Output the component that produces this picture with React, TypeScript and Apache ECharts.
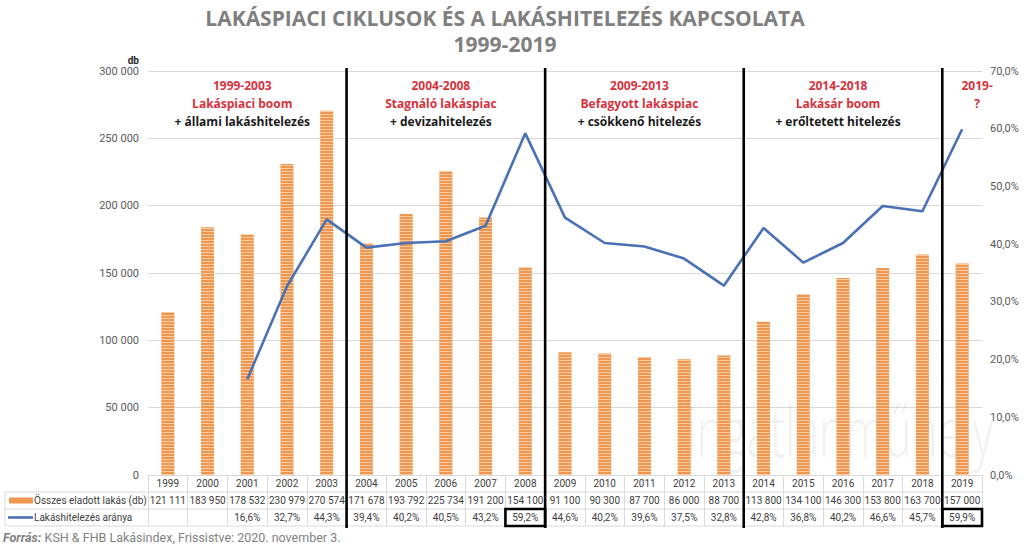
import React, { useEffect, useRef } from 'react';
import * as echarts from 'echarts';

const years = ['1999', '2000', '2001', '2002', '2003', '2004', '2005', '2006', '2007', '2008', '2009', '2010', '2011', '2012', '2013', '2014', '2015', '2016', '2017', '2018', '2019'];
const sales = [121111, 183950, 178532, 230979, 270574, 171678, 193792, 225734, 191200, 154100, 91100, 90300, 87700, 86000, 88700, 113800, 134100, 146300, 153800, 163700, 157000];
const loanShare: (number | null)[] = [null, null, 16.6, 32.7, 44.3, 39.4, 40.2, 40.5, 43.2, 59.2, 44.6, 40.2, 39.6, 37.5, 32.8, 42.8, 36.8, 40.2, 46.6, 45.7, 59.9];

const seriesNames = ['Összes eladott lakás (db)', 'Lakáshitelezés aránya'];
const titleLines = ['LAKÁSPIACI CIKLUSOK ÉS A LAKÁSHITELEZÉS KAPCSOLATA', '1999-2019'];
const periodStarts = [0, 5, 10, 15, 20];
const periodTitles = ['1999-2003', '2004-2008', '2009-2013', '2014-2018', '2019-'];
const periodSubtitles = ['Lakáspiaci boom', 'Stagnáló lakáspiac', 'Befagyott lakáspiac', 'Lakásár boom', '?'];
const periodNotes = ['+ állami lakáshitelezés', '+ devizahitelezés', '+ csökkenő hitelezés', '+ erőltetett hitelezés', ''];
const highlightedYears = ['2008', '2019'];
const sourceLabel = 'Forrás:';
const sourceText = 'KSH & FHB Lakásindex, Frissistve: 2020. november 3.';
const watermark = 'ingatlanműhely';

const fmtNum = (v: number) => String(v).replace(/\B(?=(\d{3})+(?!\d))/g, ' ');
const fmtPct = (v: number | null) => (v == null ? '\u00a0' : v.toFixed(1).replace('.', ',') + '%');

const ORANGE = '#EE9750';
const BLUE = '#4A70B5';
const GRID = '#D9D9D9';
const TXT = '#404040';
const RED = '#D7323C';
const FONT = 'Roboto, "Noto Sans", sans-serif';
const ROW = 17;
const TFS = 10;

export default function App() {
  const ref = useRef<HTMLDivElement>(null);
  useEffect(() => {
    if (!ref.current) return;
    const chart = echarts.init(ref.current, null, { renderer: 'svg' });
    const option: any = {
      animation: false,
      textStyle: { fontFamily: FONT },
      grid: { left: 148, right: 42, top: 71, bottom: 72, containLabel: false },
      xAxis: {
        type: 'category',
        data: years,
        boundaryGap: true,
        axisLine: { show: true, lineStyle: { color: GRID, width: 1 } },
        axisTick: { show: true, interval: 0, length: ROW * 3, lineStyle: { color: GRID } },
        axisLabel: {
          interval: 0,
          margin: 0,
          verticalAlign: 'top',
          hideOverlap: false,
          formatter: (val: string, idx: number) =>
            `{y|${val}}\n{v|${fmtNum(sales[idx])}}\n{p|${fmtPct(loanShare[idx])}}`,
          rich: {
            y: { fontSize: TFS, color: TXT, lineHeight: ROW, fontFamily: FONT },
            v: { fontSize: TFS, color: TXT, lineHeight: ROW, fontFamily: FONT },
            p: { fontSize: TFS, color: TXT, lineHeight: ROW, fontFamily: FONT },
          },
        },
      },
      yAxis: [
        {
          type: 'value',
          min: 0,
          max: 300000,
          interval: 50000,
          axisLine: { show: false },
          axisTick: { show: false },
          splitLine: { lineStyle: { color: GRID } },
          axisLabel: { color: '#595959', fontSize: 11, margin: 9, formatter: (v: number) => fmtNum(v) },
        },
        {
          type: 'value',
          min: 0,
          max: 70,
          interval: 10,
          axisLine: { show: false },
          axisTick: { show: false },
          splitLine: { show: false },
          axisLabel: { color: '#595959', fontSize: 11, margin: 8, formatter: (v: number) => v.toFixed(1).replace('.', ',') + '%' },
        },
      ],
      series: [
        {
          name: seriesNames[0],
          type: 'bar',
          data: sales,
          barWidth: 13,
          itemStyle: {
            color: ORANGE,
            decal: {
              symbol: 'rect',
              symbolSize: 1,
              dashArrayX: [1, 0],
              dashArrayY: [1, 2],
              color: 'rgba(255,225,195,0.7)',
              rotation: 0,
            },
          },
          z: 2,
        },
        {
          name: seriesNames[1],
          type: 'line',
          yAxisIndex: 1,
          data: loanShare,
          showSymbol: false,
          symbol: 'none',
          connectNulls: false,
          lineStyle: { color: BLUE, width: 2.6 },
          itemStyle: { color: BLUE },
          z: 3,
        },
      ],
    };
    chart.setOption(option);

    const px = (i: number) => chart.convertToPixel({ xAxisIndex: 0 }, i) as number;
    const band = px(1) - px(0);
    const bnd = (i: number) => px(i) - band / 2;
    const yTop = chart.convertToPixel({ yAxisIndex: 0 }, 300000) as number;
    const y0 = chart.convertToPixel({ yAxisIndex: 0 }, 0) as number;
    const xR = bnd(years.length);

    const g: any[] = [];
    // watermark
    g.push({
      type: 'text', x: 840, y: 430, z: 0, scaleX: 0.64, scaleY: 1,
      style: { text: watermark, fill: 'rgba(0,0,0,0.06)', font: '300 70px "Open Sans", sans-serif', align: 'center', verticalAlign: 'middle' },
    });
    // title
    titleLines.forEach((t, i) => {
      g.push({
        type: 'text', x: 505, y: 18 + i * 26, z: 10,
        style: { text: t, fill: '#7F7F7F', font: 'bold 21px "Open Sans", sans-serif', align: 'center', verticalAlign: 'middle' },
      });
    });
    g.push({
      type: 'text', x: 139, y: 60, z: 10,
      style: { text: 'db', fill: '#262626', font: 'bold 10px ' + FONT, align: 'right', verticalAlign: 'middle' },
    });
    // table horizontal lines
    [1, 2, 3].forEach((r) => {
      g.push({ type: 'line', z: 5, shape: { x1: 5, y1: y0 + r * ROW, x2: xR, y2: y0 + r * ROW }, style: { stroke: GRID, lineWidth: 1 } });
    });
    g.push({ type: 'line', z: 5, shape: { x1: 5, y1: y0 + ROW, x2: 5, y2: y0 + 3 * ROW }, style: { stroke: GRID, lineWidth: 1 } });
    // legend keys
    g.push({ type: 'rect', z: 6, shape: { x: 9, y: y0 + 1.5 * ROW - 3, width: 24, height: 6 }, style: { fill: ORANGE } });
    g.push({ type: 'line', z: 6, shape: { x1: 8, y1: y0 + 2.5 * ROW, x2: 33, y2: y0 + 2.5 * ROW }, style: { stroke: BLUE, lineWidth: 2.6 } });
    seriesNames.forEach((n, i) => {
      g.push({
        type: 'text', x: 34, y: y0 + (1.5 + i) * ROW, z: 6,
        style: { text: n, fill: TXT, font: TFS + 'px ' + FONT, align: 'left', verticalAlign: 'middle' },
      });
    });
    // period separators
    periodStarts.slice(1).forEach((s) => {
      const x = bnd(s);
      g.push({ type: 'line', z: 8, shape: { x1: x, y1: yTop - 3, x2: x, y2: y0 + 3 * ROW + 2 }, style: { stroke: '#000', lineWidth: 2.6 } });
    });
    // highlighted cells
    highlightedYears.forEach((yr) => {
      const i = years.indexOf(yr);
      g.push({ type: 'rect', z: 8, shape: { x: bnd(i), y: y0 + 2 * ROW, width: band, height: ROW }, style: { fill: 'none', stroke: '#000', lineWidth: 2.6 } });
    });
    // period annotations
    periodStarts.forEach((s, k) => {
      const end = k + 1 < periodStarts.length ? periodStarts[k + 1] : years.length;
      let cx = (bnd(s) + bnd(end)) / 2 - 5;
      if (k === periodStarts.length - 1) cx = px(s) + 15;
      [periodTitles[k], periodSubtitles[k], periodNotes[k]].forEach((t, j) => {
        if (!t) return;
        g.push({
          type: 'text', x: cx, y: 85 + j * 18, z: 9,
          style: { text: t, fill: j === 2 ? '#1a1a1a' : RED, font: 'bold 12px "Open Sans", sans-serif', align: 'center', verticalAlign: 'middle' },
        });
      });
    });
    // source
    g.push({
      type: 'text', x: 3, y: 537, z: 6,
      style: {
        text: `{b|${sourceLabel}} {n|${sourceText}}`,
        verticalAlign: 'middle', align: 'left',
        rich: {
          b: { fontSize: 12.5, fontWeight: 'bold', fontStyle: 'italic', fill: '#7F7F7F', fontFamily: FONT },
          n: { fontSize: 12.5, fill: '#7F7F7F', fontFamily: FONT },
        },
      },
    });
    chart.setOption({ graphic: { elements: g } });
    return () => chart.dispose();
  }, []);
  return <div ref={ref} style={{ position: 'fixed', left: 0, top: 0, width: 1024, height: 547, background: '#fff' }} />;
}
